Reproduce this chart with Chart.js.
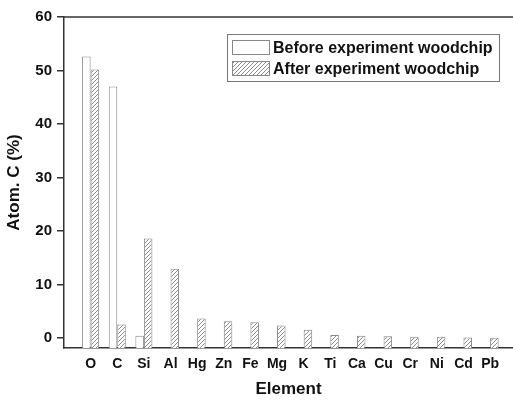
<!DOCTYPE html>
<html>
<head>
<meta charset="utf-8">
<script src="https://cdn.jsdelivr.net/npm/chart.js@4/dist/chart.umd.min.js"></script>
<style>
html,body{margin:0;padding:0;background:#fff;overflow:hidden;}
#wrap{width:513px;height:400px;position:relative;}
</style>
</head>
<body>
<div id="wrap"><canvas id="c" width="513" height="400"></canvas></div>
<script>
const categories = ['O','C','Si','Al','Hg','Zn','Fe','Mg','K','Ti','Ca','Cu','Cr','Ni','Cd','Pb'];
const beforeValues = [52.6, 47.0, 0.4, null, null, null, null, null, null, null, null, null, null, null, null, null];
const afterValues = [50.2, 2.5, 18.6, 12.9, 3.6, 3.1, 2.9, 2.3, 1.5, 0.55, 0.4, 0.3, 0.2, 0.2, 0.05, 0.02];
const yTickValues = [0, 10, 20, 30, 40, 50, 60];
const seriesNames = ['Before experiment woodchip', 'After experiment woodchip'];

function makeHatch() {
  const s = 4;
  const p = document.createElement('canvas');
  p.width = s; p.height = s;
  const g = p.getContext('2d');
  g.fillStyle = '#ffffff';
  g.fillRect(0, 0, s, s);
  g.strokeStyle = '#8a8a8a';
  g.lineWidth = 1;
  g.beginPath();
  g.moveTo(0, s); g.lineTo(s, 0);
  g.moveTo(-1, 1); g.lineTo(1, -1);
  g.moveTo(s - 1, s + 1); g.lineTo(s + 1, s - 1);
  g.stroke();
  return g.createPattern(p, 'repeat');
}
const hatch = makeHatch();

const boxPlugin = {
  id: 'box',
  afterDraw(chart) {
    const ctx = chart.ctx, a = chart.chartArea;
    ctx.save();
    ctx.strokeStyle = '#333';
    ctx.lineWidth = 1.5;
    ctx.beginPath();
    ctx.moveTo(a.left, a.top);
    ctx.lineTo(a.right, a.top);
    ctx.stroke();
    // legend
    const lx = 227.5, ly = 34.5, lw = 272, lh = 47;
    ctx.lineWidth = 1;
    ctx.strokeStyle = '#777';
    ctx.strokeRect(lx, ly, lw, lh);
    const fills = ['#ffffff', hatch];
    const tops = [40.5, 61.5];
    ctx.font = 'bold 16px "Liberation Sans", Arial, sans-serif';
    ctx.textBaseline = 'middle';
    ctx.textAlign = 'left';
    chart.data.datasets.forEach((ds, i) => {
      ctx.fillStyle = fills[i];
      ctx.fillRect(232.5, tops[i], 37, 14);
      ctx.strokeStyle = '#888';
      ctx.strokeRect(232.5, tops[i], 37, 14);
      ctx.fillStyle = '#111';
      ctx.fillText(ds.label, 273, tops[i] + 8);
    });
    ctx.restore();
  }
};

new Chart(document.getElementById('c'), {
  type: 'bar',
  data: {
    datasets: [
      {
        label: seriesNames[0],
        data: beforeValues.map((v, i) => ({x: i, y: v})),
        backgroundColor: '#ffffff',
        borderColor: '#888',
        borderWidth: 1,
        base: -1.9
      },
      {
        label: seriesNames[1],
        data: afterValues.map((v, i) => ({x: i, y: v})),
        backgroundColor: hatch,
        borderColor: '#888',
        borderWidth: 1,
        base: -1.9
      }
    ]
  },
  options: {
    responsive: false,
    animation: false,
    categoryPercentage: 0.64,
    barPercentage: 1.0,
    layout: {padding: {top: 17, right: 0, bottom: 0, left: 0}},
    plugins: {legend: {display: false}, tooltip: {enabled: false}},
    scales: {
      x: {
        type: 'linear',
        offset: false,
        min: -1.0,
        max: 15.86,
        afterBuildTicks(scale) { scale.ticks = categories.map((c, i) => ({value: i})); },
        afterFit(scale) { scale.height = 52; },
        grid: {display: true, drawOnChartArea: false, drawTicks: false},
        border: {display: true, color: '#333', width: 1.5},
        ticks: {
          autoSkip: false,
          maxRotation: 0,
          padding: 8,
          color: '#111',
          font: {family: '"Liberation Sans", Arial, sans-serif', size: 14, weight: 'bold'},
          callback: (v) => categories[v] !== undefined ? categories[v] : ''
        },
        title: {
          display: true,
          text: 'Element',
          color: '#111',
          padding: {top: 2, bottom: 0},
          font: {family: '"Liberation Sans", Arial, sans-serif', size: 17, weight: 'bold'}
        }
      },
      y: {
        min: -1.9,
        max: 60,
        afterBuildTicks(scale) { scale.ticks = yTickValues.map(v => ({value: v})); },
        afterFit(scale) { scale.width = 64; },
        grid: {display: true, drawOnChartArea: false, drawTicks: true, tickLength: 7, color: '#333', lineWidth: 1.5},
        border: {display: true, color: '#333', width: 1.5},
        ticks: {
          padding: 5,
          color: '#111',
          font: {family: '"Liberation Sans", Arial, sans-serif', size: 15, weight: 'bold'}
        },
        title: {
          display: true,
          text: 'Atom. C (%)',
          color: '#111',
          padding: {top: 4, bottom: 0},
          font: {family: '"Liberation Sans", Arial, sans-serif', size: 17, weight: 'bold'}
        }
      }
    }
  },
  plugins: [boxPlugin]
});
</script>
</body>
</html>
